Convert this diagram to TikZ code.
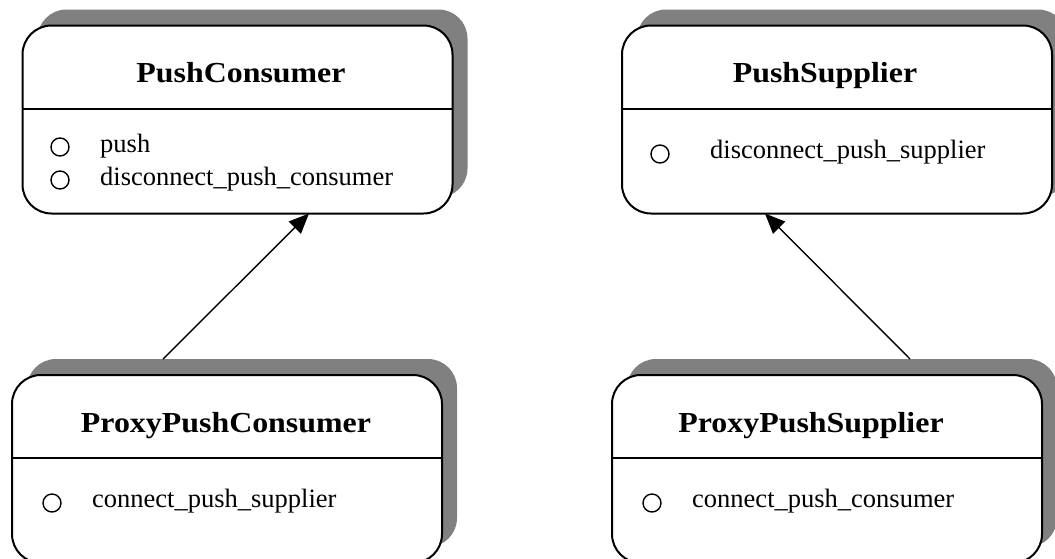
\documentclass[tikz,border=0pt]{standalone}
\usepackage{fontspec}
\setmainfont{Liberation Serif}
\usetikzlibrary{arrows.meta}
\definecolor{shadowgray}{RGB}{128,128,128}
\tikzset{
  shadowbox/.style={rectangle, rounded corners=29pt, fill=shadowgray, draw=none,
    inner sep=0pt, outer sep=0pt, minimum width=430pt, minimum height=188pt},
  classbox/.style={rectangle, rounded corners=29pt, fill=white, draw=black,
    line width=2pt, inner sep=0pt, outer sep=0pt,
    minimum width=430pt, minimum height=188pt},
  classtitle/.style={anchor=base, inner sep=0pt,
    font=\fontsize{29}{31}\selectfont\bfseries},
  optext/.style={anchor=base west, inner sep=0pt,
    font=\fontsize{26.5}{28}\selectfont},
  opmark/.style={circle, draw=black, line width=1.4pt, fill=white,
    minimum size=18pt, inner sep=0pt},
  divider/.style={line width=1.4pt},
  inherits/.style={line width=1.4pt, -{Triangle[length=20pt,width=17pt]}}
}
\newcommand{\wideTitle}[1]{\scalebox{1.1}[1]{#1}}
\begin{document}
\begin{tikzpicture}[x=1pt,y=-1pt]
  \clip (0,0) rectangle (1055,558);
  \useasboundingbox (0,0) rectangle (1055,558);
  \fill[white] (0,0) rectangle (1055,558);

  % drop shadows (offset up and to the right)
  \node[shadowbox] (pcS)  at (252.5,103.5) {};
  \node[shadowbox] (psS)  at (852,103.5)   {};
  \node[shadowbox] (ppcS) at (242,453)     {};
  \node[shadowbox] (ppsS) at (842,453)     {};

  % class boxes
  \node[classbox] (pc)  at (237.5,119.5) {};
  \node[classbox] (ps)  at (837,119.5)   {};
  \node[classbox] (ppc) at (227,469)     {};
  \node[classbox] (pps) at (827,469)     {};

  % compartment dividers
  \draw[divider] ([yshift=10.5pt]pc.west)  -- ([yshift=10.5pt]pc.east);
  \draw[divider] ([yshift=10.5pt]ps.west)  -- ([yshift=10.5pt]ps.east);
  \draw[divider] ([yshift=11pt]ppc.west) -- ([yshift=11pt]ppc.east);
  \draw[divider] ([yshift=11pt]pps.west) -- ([yshift=11pt]pps.east);

  % class names
  \node[classtitle] (pcT)  at (241,82)  {\wideTitle{PushConsumer}};
  \node[classtitle] (psT)  at (825,82)  {\wideTitle{PushSupplier}};
  \node[classtitle] (ppcT) at (226,432) {\wideTitle{ProxyPushConsumer}};
  \node[classtitle] (ppsT) at (811,432) {\wideTitle{ProxyPushSupplier}};

  % operations
  \node[opmark] (pcM1) at (60,147)  {};
  \node[optext] (pcO1) at (100,152) {push};
  \node[opmark] (pcM2) at (60,180)  {};
  \node[optext] (pcO2) at (100,185) {disconnect\_push\_consumer};

  \node[opmark] (psM1) at (660,154) {};
  \node[optext] (psO1) at (710,158) {disconnect\_push\_supplier};

  \node[opmark] (ppcM1) at (52,503) {};
  \node[optext] (ppcO1) at (92,507) {connect\_push\_supplier};

  \node[opmark] (ppsM1) at (652,503) {};
  \node[optext] (ppsO1) at (692,507) {connect\_push\_consumer};

  % generalisation arrows
  \draw[inherits] ([xshift=-79pt]ppcS.north) -- ([xshift=71.5pt]pc.south);
  \draw[inherits] ([xshift=68pt]ppsS.north)  -- ([xshift=-72pt]ps.south);
\end{tikzpicture}
\end{document}
